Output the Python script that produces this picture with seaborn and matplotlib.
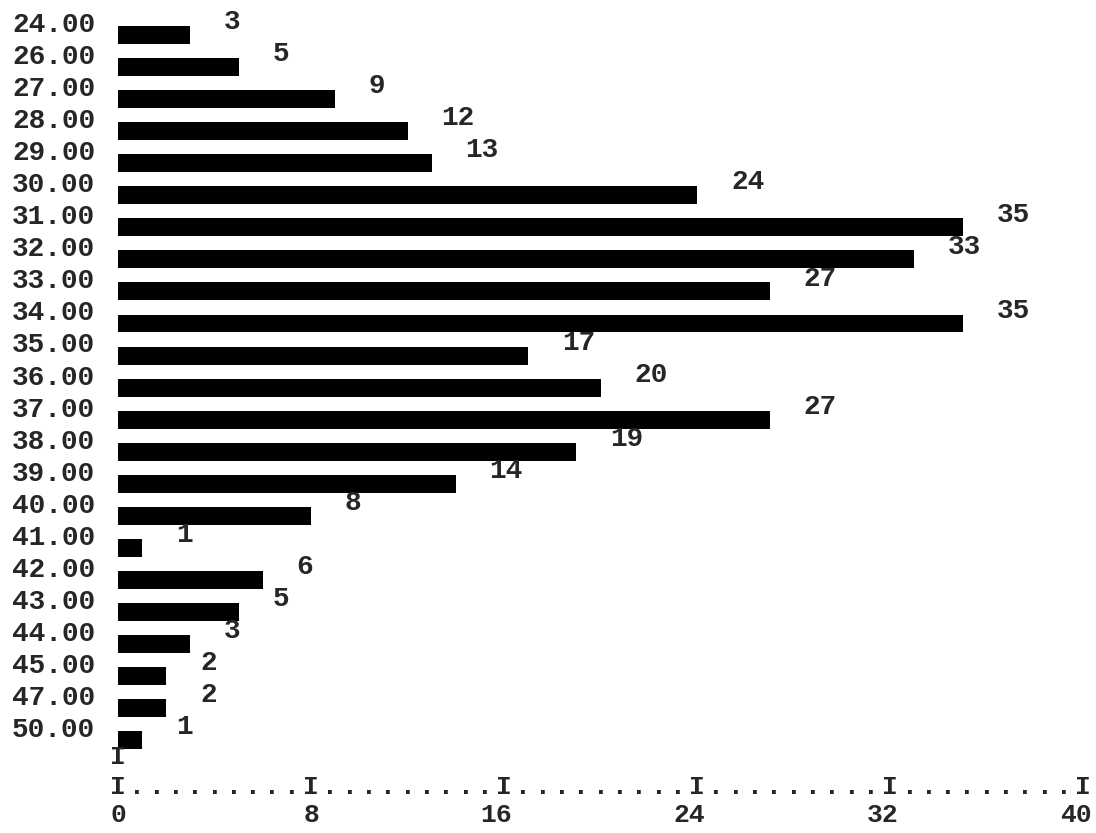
import matplotlib
matplotlib.use("Agg")
import matplotlib.pyplot as plt
import matplotlib.transforms as mtransforms
import seaborn as sns
import numpy as np

# Histogram data
bins = ["24.00", "26.00", "27.00", "28.00", "29.00", "30.00", "31.00", "32.00",
        "33.00", "34.00", "35.00", "36.00", "37.00", "38.00", "39.00", "40.00",
        "41.00", "42.00", "43.00", "44.00", "45.00", "47.00", "50.00"]
counts = [3, 5, 9, 12, 13, 24, 35, 33, 27, 35, 17, 20, 27, 19, 14, 8,
          1, 6, 5, 3, 2, 2, 1]
x_ticks = [0, 8, 16, 24, 32, 40]

sns.set_style("white")
plt.rcParams["font.family"] = ["Liberation Mono", "DejaVu Sans Mono"]
plt.rcParams["font.weight"] = "bold"

fig = plt.figure(figsize=(10.96, 8.33), dpi=100)
ax = fig.add_axes([100 / 1096, 30 / 833, 996 / 1096, 803 / 833])

sns.barplot(x=counts, y=bins, orient="h", color="black", saturation=1,
            width=0.56, edgecolor="none", ax=ax)

scale = 24.13  # pixels per unit
ax.set_xlim(-18 / scale, -18 / scale + 996 / scale)
ax.set_ylim(23.96, -1.092)
for s in ax.spines.values():
    s.set_visible(False)
ax.set_xlabel("")
ax.set_ylabel("")

# category labels sit a little above each bar
ax.tick_params(axis="y", length=0, pad=3.6)
ax.set_yticks(range(len(bins)))
ax.set_yticklabels(bins, fontsize=20, fontweight="bold")
up = mtransforms.ScaledTranslation(0, 9.4 / 72, fig.dpi_scale_trans)
for lab in ax.get_yticklabels():
    lab.set_transform(lab.get_transform() + up)

# value labels at the end of each bar
for i, n in enumerate(counts):
    ax.text(n + 1.4, i - 0.4, str(n), ha="left", va="center", fontsize=20,
            fontweight="bold")

# teletype style axis made of characters
ax.text(0, 22.53, "I", ha="center", va="center", fontsize=19, fontweight="bold")
for k in range(51):
    ch = "I" if k % 10 == 0 else "."
    ax.text(k * 0.8, 23.46, ch, ha="center", va="center", fontsize=19,
            fontweight="bold", clip_on=False)

ax.set_xticks(x_ticks)
ax.set_xticklabels([str(t) for t in x_ticks], fontsize=19, fontweight="bold",
                   ha="right")
ax.tick_params(axis="x", length=0, pad=0)
right = mtransforms.ScaledTranslation(6 / 72, 0, fig.dpi_scale_trans)
for lab in ax.get_xticklabels():
    lab.set_transform(lab.get_transform() + right)

fig.savefig("out.png", dpi=100)
